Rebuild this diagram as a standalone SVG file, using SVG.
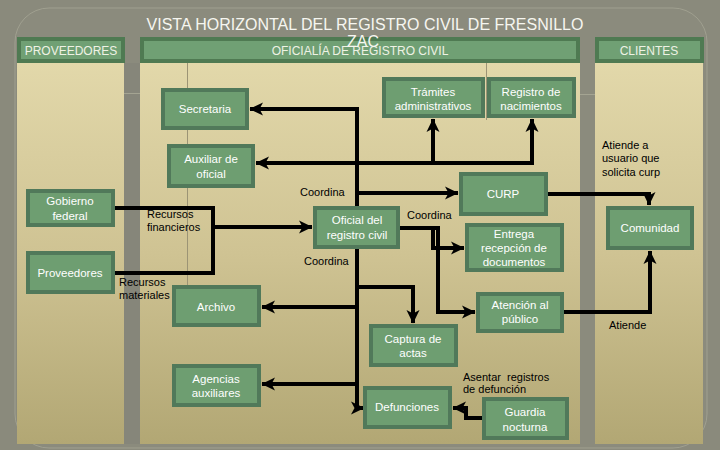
<svg xmlns="http://www.w3.org/2000/svg" width="720" height="450" viewBox="0 0 720 450">
<defs>
<linearGradient id="pan" x1="0" y1="0" x2="0" y2="1">
<stop offset="0" stop-color="#e2d8aa"/>
<stop offset="0.5" stop-color="#cfc393"/>
<stop offset="1" stop-color="#b2a774"/>
</linearGradient>
<marker id="ah" markerUnits="userSpaceOnUse" markerWidth="14" markerHeight="14" refX="13" refY="7" orient="auto" viewBox="0 0 14 14">
<path d="M0,0.5 L13.5,7 L0,13.5 L3.5,7 z" fill="#000"/>
</marker>
<style>
.hdr{fill:#70a074;stroke:#4f7a52;stroke-width:4}
.ht{font-family:"Liberation Sans",Arial,sans-serif;font-size:12px;fill:#eef2e4;text-anchor:middle}
.node rect{fill:#6e9e71;stroke:#51795a;stroke-width:4}
.node text{font-family:"Liberation Sans",Arial,sans-serif;font-size:11.5px;fill:#fff;text-anchor:middle}
.lbl{font-family:"Liberation Sans",Arial,sans-serif;font-size:11px;fill:#000}
.conn path{fill:none;stroke:#000;stroke-width:4}
.arr{marker-end:url(#ah)}
</style>
</defs>
<rect x="0" y="0" width="720" height="450" fill="#8a8a7c"/>
<rect x="15" y="8" width="692" height="440" rx="34" fill="#8b8b7d" stroke="#a0a090" stroke-width="1"/>
<g id="title">
<text x="365" y="30" font-family="'Liberation Sans',Arial,sans-serif" font-size="16" fill="#f6f6f0" text-anchor="middle">VISTA HORIZONTAL DEL REGISTRO CIVIL DE FRESNILLO</text>
</g>
<g id="lanes">
<rect x="17" y="63" width="107" height="381" fill="url(#pan)"/>
<rect x="140" y="63" width="440" height="381" fill="url(#pan)"/>
<rect x="595" y="63" width="108" height="381" fill="url(#pan)"/>
<rect x="124" y="63" width="16" height="381" fill="#86867a"/>
<line x1="187.5" y1="63" x2="187.5" y2="290" stroke="#9c9475" stroke-width="1"/>
<line x1="486.5" y1="63" x2="486.5" y2="120" stroke="#9c9475" stroke-width="1"/>
<line x1="124" y1="93.5" x2="140" y2="93.5" stroke="#a4a492" stroke-width="1"/>
<line x1="580" y1="94.5" x2="595" y2="94.5" stroke="#a4a492" stroke-width="1"/>
<rect x="19" y="39" width="104" height="22" class="hdr"/>
<text x="71" y="55" class="ht">PROVEEDORES</text>
<rect x="142" y="39" width="436" height="22" class="hdr"/>
<text x="360" y="55" class="ht">OFICIALÍA DE REGISTRO CIVIL</text>
<rect x="597" y="39" width="105" height="22" class="hdr"/>
<text x="649" y="55" class="ht">CLIENTES</text>
<text x="363" y="47" font-family="'Liberation Sans',Arial,sans-serif" font-size="16" fill="#f6f6f0" text-anchor="middle">ZAC</text>
</g>
<g class="conn" id="connectors">
<path class="arr" d="M357,206 V109 H250"/>
<path class="arr" d="M534,163 H256"/>
<path class="arr" d="M433,163 V119"/>
<path class="arr" d="M532,165 V119"/>
<path class="arr" d="M357,193 H458"/>
<path class="arr" d="M548,194 H649 V205"/>
<path d="M115,208 H213 V273 H115"/>
<path class="arr" d="M213,227 H312"/>
<path class="arr" d="M400,228 H433 V248 H464"/>
<path class="arr" d="M400,228 H438 V312 H475"/>
<path class="arr" d="M357,249 V408 H364"/>
<path class="arr" d="M357,287 H413 V323"/>
<path class="arr" d="M357,307 H262"/>
<path class="arr" d="M357,384 H262"/>
<path class="arr" d="M482,418 H466 V408 H453"/>
<path class="arr" d="M564,312 H650 V251"/>
</g>
<g id="labels">
<text class="lbl" x="300" y="196">Coordina</text>
<text class="lbl" x="147" y="218">Recursos</text>
<text class="lbl" x="147" y="231">financieros</text>
<text class="lbl" x="407" y="219">Coordina</text>
<text class="lbl" x="304" y="265">Coordina</text>
<text class="lbl" x="119" y="286">Recursos</text>
<text class="lbl" x="119" y="299">materiales</text>
<text class="lbl" x="602" y="149">Atiende a</text>
<text class="lbl" x="602" y="162">usuario que</text>
<text class="lbl" x="602" y="176">solicita curp</text>
<text class="lbl" x="609" y="329">Atiende</text>
<text class="lbl" x="463" y="381" xml:space="preserve">Asentar  registros</text>
<text class="lbl" x="463" y="393">de defunción</text>
</g>
<g id="secretaria" class="node"><rect x="163" y="90" width="84" height="38"/><text x="205" y="113">Secretaria</text></g>
<g id="tramites" class="node"><rect x="384" y="79" width="99" height="37"/><text x="433" y="96">Trámites</text><text x="433" y="110">administrativos</text></g>
<g id="registro" class="node"><rect x="489" y="79" width="85" height="37"/><text x="531" y="96">Registro de</text><text x="531" y="110">nacimientos</text></g>
<g id="auxiliar" class="node"><rect x="169" y="146" width="84" height="40"/><text x="211" y="163">Auxiliar de</text><text x="211" y="178">oficial</text></g>
<g id="gobierno" class="node"><rect x="28" y="191" width="85" height="34"/><text x="70" y="205">Gobierno</text><text x="70" y="220">federal</text></g>
<g id="proveedores" class="node"><rect x="28" y="253" width="85" height="39"/><text x="70" y="277">Proveedores</text></g>
<g id="oficial" class="node"><rect x="315" y="208" width="83" height="39"/><text x="357" y="224">Oficial del</text><text x="357" y="239">registro civil</text></g>
<g id="curp" class="node"><rect x="461" y="174" width="85" height="40"/><text x="503" y="198">CURP</text></g>
<g id="entrega" class="node"><rect x="467" y="225" width="95" height="45"/><text x="514" y="238">Entrega</text><text x="514" y="252">recepción de</text><text x="514" y="266">documentos</text></g>
<g id="comunidad" class="node"><rect x="608" y="208" width="84" height="40"/><text x="650" y="232">Comunidad</text></g>
<g id="archivo" class="node"><rect x="174" y="287" width="85" height="38"/><text x="216" y="311">Archivo</text></g>
<g id="agencias" class="node"><rect x="174" y="366" width="85" height="39"/><text x="216" y="383">Agencias</text><text x="216" y="397">auxiliares</text></g>
<g id="atencion" class="node"><rect x="478" y="294" width="84" height="37"/><text x="520" y="309">Atención al</text><text x="520" y="323">público</text></g>
<g id="captura" class="node"><rect x="371" y="326" width="85" height="39"/><text x="413" y="343">Captura de</text><text x="413" y="357">actas</text></g>
<g id="defunciones" class="node"><rect x="365" y="388" width="85" height="39"/><text x="407" y="411">Defunciones</text></g>
<g id="guardia" class="node"><rect x="484" y="399" width="83" height="39"/><text x="525" y="416">Guardia</text><text x="525" y="431">nocturna</text></g>
</svg>
